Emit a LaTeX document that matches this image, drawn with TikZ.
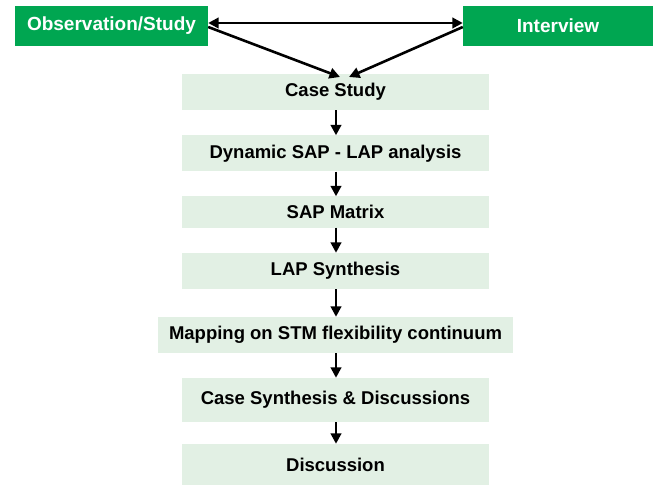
\documentclass[tikz,border=0pt]{standalone}
\usepackage{fontspec}
\setmainfont{Liberation Sans}
\usetikzlibrary{arrows.meta}
\definecolor{srcgreen}{RGB}{0,166,81}
\definecolor{stepfill}{RGB}{226,240,228}
\tikzset{
  source/.style={fill=srcgreen, text=white, font=\bfseries\fontsize{19}{22}\selectfont,
    inner sep=0pt, minimum height=40pt},
  stepbox/.style={fill=stepfill, text=black, font=\bfseries\fontsize{18.5}{22}\selectfont,
    inner sep=0pt},
  flow/.style={line width=2.6pt, -{Triangle[length=10.5pt,width=10.5pt]}},
  both/.style={line width=2.6pt, {Triangle[length=10.5pt,width=10.5pt]}-{Triangle[length=10.5pt,width=10.5pt]}}
}
\begin{document}
\begin{tikzpicture}[x=1pt,y=-1pt]
  \useasboundingbox (0,0) rectangle (660,486);

  % data sources
  \node[source, minimum width=193pt] (obs) at (111.5,26) {Observation/Study};
  \node[source, minimum width=190pt] (int) at (558,26) {Interview};

  % process steps
  \node[stepbox, minimum width=307pt, minimum height=36pt] (cs)   at (335.5,92)  {Case Study};
  \node[stepbox, minimum width=307pt, minimum height=36pt] (dyn)  at (335.5,153.5) {Dynamic SAP - LAP analysis};
  \node[stepbox, minimum width=307pt, minimum height=31pt] (sap)  at (335.5,212) {SAP Matrix};
  \node[stepbox, minimum width=307pt, minimum height=36pt] (lap)  at (335.5,271) {LAP Synthesis};
  \node[stepbox, minimum width=355pt, minimum height=36pt] (map)  at (335.5,335) {Mapping on STM flexibility continuum};
  \node[stepbox, minimum width=307pt, minimum height=44pt] (csyn) at (335.5,400) {Case Synthesis \& Discussions};
  \node[stepbox, minimum width=307pt, minimum height=41pt] (disc) at (335.5,464.5) {Discussion};

  % links between the sources and into the case study
  \draw[both] (obs.east |- 0,23) -- (int.west |- 0,23);
  \coordinate (csL) at (340,77);
  \coordinate (csR) at (349,77);
  \draw[flow] (obs.east |- 0,27) -- (csL);
  \draw[flow] (int.west |- 0,27) -- (csR);

  % sequential flow
  \draw[flow] (cs.south -| 336,0)   -- (dyn.north -| 336,0);
  \draw[flow] (dyn.south -| 336,0)  -- (sap.north -| 336,0);
  \draw[flow] (sap.south -| 336,0)  -- (lap.north -| 336,0);
  \draw[flow] (lap.south -| 336,0)  -- (map.north -| 336,0);
  \draw[flow] (map.south -| 336,0)  -- (csyn.north -| 336,0);
  \draw[flow] (csyn.south -| 336,0) -- (disc.north -| 336,0);
\end{tikzpicture}
\end{document}
